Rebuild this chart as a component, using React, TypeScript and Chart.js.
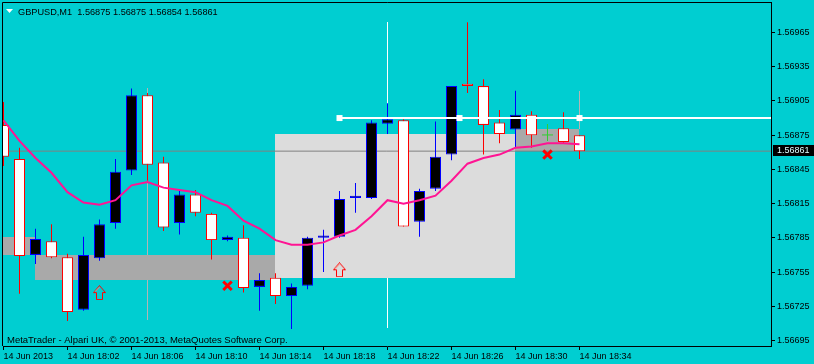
import React, { useEffect, useRef } from 'react';
import { Chart, registerables } from 'chart.js';

Chart.register(...registerables);

// ---------------- data ----------------
const headerText = 'GBPUSD,M1  1.56875 1.56875 1.56854 1.56861';
const copyrightText = 'MetaTrader - Alpari UK, \u00A9 2001-2013, MetaQuotes Software Corp.';

const timeTickBars = [0, 4, 8, 12, 16, 20, 24, 28, 32, 36];
const timeLabels = [
  '14 Jun 2013', '14 Jun 18:02', '14 Jun 18:06', '14 Jun 18:10', '14 Jun 18:14',
  '14 Jun 18:18', '14 Jun 18:22', '14 Jun 18:26', '14 Jun 18:30', '14 Jun 18:34',
];
const priceTicks = [1.56695, 1.56725, 1.56755, 1.56785, 1.56815, 1.56845, 1.56875, 1.56905, 1.56935, 1.56965];

const opens: (number | null)[] = [
  1.56884, 1.56854, 1.5677, 1.56782, 1.56768, 1.56722, 1.56767, 1.56798, 1.56844, 1.5691,
  1.56851, 1.56798, 1.56823, 1.56806, 1.56783, 1.56785, 1.56742, 1.5675, 1.56734, 1.56743,
  1.56785, 1.56786, 1.5682, 1.5682, 1.56885, 1.56888, 1.56799, 1.56828, 1.56858, 1.5692,
  1.56918, 1.56886, 1.5688, 1.56893, null, 1.56881, 1.56875,
];
const highs: (number | null)[] = [
  1.56904, 1.56864, 1.56793, 1.56797, 1.56771, 1.56786, 1.56801, 1.56854, 1.56916, 1.56912,
  1.56856, 1.56826, 1.56827, 1.56807, 1.56787, 1.56796, 1.56754, 1.56754, 1.56745, 1.56786,
  1.56792, 1.56826, 1.56833, 1.56888, 1.56903, 1.56889, 1.56828, 1.56887, 1.56918, 1.56974,
  1.56924, 1.56897, 1.56914, 1.56896, null, 1.56895, 1.56875,
];
const lows: (number | null)[] = [
  1.56848, 1.56736, 1.56762, 1.56767, 1.56712, 1.56721, 1.56765, 1.56793, 1.5684, 1.56835,
  1.56791, 1.56788, 1.56804, 1.56766, 1.56782, 1.56737, 1.56721, 1.56727, 1.56705, 1.5674,
  1.56755, 1.56785, 1.56807, 1.56819, 1.56876, 1.56795, 1.56786, 1.56826, 1.56853, 1.56912,
  1.56858, 1.56868, 1.56864, 1.56864, null, 1.56868, 1.56854,
];
const closes: (number | null)[] = [
  1.56856, 1.56769, 1.56784, 1.56768, 1.5672, 1.5677, 1.56797, 1.56843, 1.5691, 1.56849,
  1.56794, 1.56823, 1.56807, 1.56783, 1.56786, 1.56741, 1.56748, 1.56734, 1.56742, 1.56785,
  1.56787, 1.56819, 1.56822, 1.56886, 1.56889, 1.56795, 1.56826, 1.56856, 1.56918, 1.56918,
  1.56884, 1.56876, 1.56893, 1.56875, null, 1.56869, 1.56861,
];
const maValues = [
  1.56888, 1.5687, 1.56855, 1.56842, 1.56825, 1.56816, 1.56814, 1.56818, 1.56831, 1.56834,
  1.56829, 1.56827, 1.56825, 1.56818, 1.56813, 1.568, 1.56793, 1.56783, 1.56779, 1.56779,
  1.56781, 1.56787, 1.56792, 1.56804, 1.56818, 1.56815, 1.56818, 1.56822, 1.56835, 1.5685,
  1.56855, 1.56858, 1.56864, 1.56865, 1.56868, 1.56868, 1.56867,
];

// rectangles (bar from, bar to, price top, price bottom)
const rectStart = [-1, 2, 17, 32];
const rectEnd = [2, 17, 32, 36];
const rectTop = [1.56786, 1.5677, 1.56876, 1.5688];
const rectBottom = [1.5677, 1.56748, 1.5675, 1.56861];
const rectKind = ['dark', 'dark', 'light', 'dark'];

// vertical line objects
const vLineBars = [9, 24, 36];
const vLineTop = [1.56916, 1.56974, 1.56914];
const vLineBottom = [1.56713, 1.56706, 1.5688];
const vLineKind = ['grey', 'white', 'grey'];

// horizontal objects
const bidPrice = 1.56861;
const rayPrice = 1.5689;
const rayBars = [21, 28.5, 36, 48];

// markers
const arrowBars = [6, 21];
const arrowPrices = [1.56737, 1.56757];
const crossBars = [14, 34];
const crossPrices = [1.56743, 1.56858];
const plusBars = [34];
const plusPrices = [1.56877];

// ---------------- styles ----------------
const BG = '#00CED1';
const FONT = '"Liberation Sans", Arial, sans-serif';

function makeArrow(): HTMLCanvasElement {
  const c = document.createElement('canvas');
  c.width = 13; c.height = 15;
  const g = c.getContext('2d')!;
  g.strokeStyle = '#FF0000';
  g.lineWidth = 1;
  g.beginPath();
  g.moveTo(6.5, 0.5);
  g.lineTo(12.5, 7.5);
  g.lineTo(9.5, 7.5);
  g.lineTo(9.5, 14.5);
  g.lineTo(3.5, 14.5);
  g.lineTo(3.5, 7.5);
  g.lineTo(0.5, 7.5);
  g.closePath();
  g.stroke();
  g.strokeStyle = '#FF9080';
  g.beginPath();
  g.moveTo(6.5, 2);
  g.lineTo(2, 6.5);
  g.stroke();
  return c;
}

function makePlus(): HTMLCanvasElement {
  const c = document.createElement('canvas');
  c.width = 11; c.height = 17;
  const g = c.getContext('2d')!;
  g.strokeStyle = '#32CD32';
  g.lineWidth = 1;
  g.beginPath();
  g.moveTo(5.5, 0); g.lineTo(5.5, 17);
  g.moveTo(0, 10.5); g.lineTo(11, 10.5);
  g.stroke();
  return c;
}

export default function App() {
  const ref = useRef<HTMLCanvasElement | null>(null);

  useEffect(() => {
    document.body.style.margin = '0';
    const canvas = ref.current!;
    const valid = opens.map((o, i) => (o == null ? -1 : i)).filter((i) => i >= 0);
    const bull = valid.map((i) => (closes[i] as number) > (opens[i] as number));

    const bodyData = valid.map((i) => ({
      x: i,
      y: [Math.min(opens[i] as number, closes[i] as number), Math.max(opens[i] as number, closes[i] as number)],
    }));
    const wickData = valid.map((i) => ({ x: i, y: [lows[i] as number, highs[i] as number] }));

    const bgPlugin = {
      id: 'bg',
      beforeDraw(chart: any) {
        const ctx = chart.ctx;
        ctx.save();
        ctx.fillStyle = BG;
        ctx.fillRect(0, 0, chart.width, chart.height);
        ctx.restore();
      },
    };

    const objectsPlugin = {
      id: 'objects',
      beforeDatasetsDraw(chart: any) {
        const { ctx, chartArea, scales } = chart;
        const xs = scales.x, ys = scales.y;
        ctx.save();
        ctx.beginPath();
        ctx.rect(chartArea.left, chartArea.top, chartArea.right - chartArea.left, chartArea.bottom - chartArea.top);
        ctx.clip();
        vLineBars.forEach((b, k) => {
          const px = Math.floor(xs.getPixelForValue(b)) + 0.5;
          ctx.strokeStyle = vLineKind[k] === 'white' ? '#FFFFFF' : '#B4B4B4';
          ctx.lineWidth = 1;
          ctx.beginPath();
          ctx.moveTo(px, Math.round(ys.getPixelForValue(vLineTop[k])));
          ctx.lineTo(px, Math.round(ys.getPixelForValue(vLineBottom[k])));
          ctx.stroke();
        });
        rectStart.forEach((s, k) => {
          const x1 = Math.floor(xs.getPixelForValue(s));
          const x2 = Math.floor(xs.getPixelForValue(rectEnd[k]));
          const y1 = Math.round(ys.getPixelForValue(rectTop[k]));
          const y2 = Math.round(ys.getPixelForValue(rectBottom[k]));
          ctx.fillStyle = rectKind[k] === 'light' ? '#DCDCDC' : '#A9A9A9';
          ctx.fillRect(x1, y1, x2 - x1, y2 - y1);
        });
        ctx.restore();
      },
    };

    const overlayPlugin = {
      id: 'overlay',
      afterDraw(chart: any) {
        const { ctx, chartArea, scales } = chart;
        ctx.save();
        // frame top and left
        ctx.strokeStyle = '#000';
        ctx.lineWidth = 1;
        ctx.beginPath();
        ctx.moveTo(2.5, chartArea.bottom);
        ctx.lineTo(2.5, 2.5);
        ctx.lineTo(chartArea.right + 1, 2.5);
        ctx.stroke();
        // header
        ctx.fillStyle = '#FFFFFF';
        ctx.beginPath();
        ctx.moveTo(6, 9);
        ctx.lineTo(13, 9);
        ctx.lineTo(9.5, 13);
        ctx.closePath();
        ctx.fill();
        ctx.fillStyle = '#000';
        ctx.textBaseline = 'alphabetic';
        ctx.textAlign = 'left';
        ctx.font = '9.2px ' + FONT;
        ctx.fillText(headerText, 18, 15);
        ctx.font = '9.5px ' + FONT;
        ctx.fillText(copyrightText, 7, 343);
        // bid price label
        const yb = scales.y.getPixelForValue(bidPrice);
        ctx.font = '9px ' + FONT;
        ctx.fillStyle = '#000';
        ctx.fillRect(chartArea.right + 2, Math.round(yb) - 6, 814 - chartArea.right - 2, 11);
        ctx.fillStyle = '#E0FFFF';
        ctx.textBaseline = 'middle';
        ctx.fillText(bidPrice.toFixed(5), chartArea.right + 6, Math.round(yb));
        ctx.restore();
      },
    };

    const tickFont = { family: FONT, size: 9 };

    const chart = new Chart(canvas, {
      type: 'bar',
      data: {
        datasets: [
          {
            type: 'line',
            label: 'bid',
            data: [{ x: -1, y: bidPrice }, { x: 48, y: bidPrice }],
            borderColor: '#808080',
            borderWidth: 1,
            pointRadius: 0,
            order: 10,
          } as any,
          {
            type: 'bar',
            label: 'wick',
            data: wickData,
            backgroundColor: bull.map((b) => (b ? '#0000FF' : '#FF0000')),
            borderWidth: 0,
            inflateAmount: 0,
            barThickness: 1,
            maxBarThickness: 1,
            grouped: false,
            order: 5,
          } as any,
          {
            type: 'bar',
            label: 'body',
            data: bodyData,
            backgroundColor: bull.map((b) => (b ? '#000000' : '#FFFFFF')),
            borderColor: bull.map((b) => (b ? '#0000FF' : '#FF0000')),
            borderWidth: 1,
            inflateAmount: 0,
            borderSkipped: false,
            barThickness: 11,
            maxBarThickness: 11,
            grouped: false,
            order: 4,
          } as any,
          {
            type: 'line',
            label: 'MA',
            data: maValues.map((v, i) => ({ x: i, y: v })),
            borderColor: '#FF1493',
            borderWidth: 2,
            pointRadius: 0,
            tension: 0,
            order: 2,
          } as any,
          {
            type: 'line',
            label: 'ray',
            data: rayBars.map((b) => ({ x: b, y: rayPrice })),
            borderColor: '#FFFFFF',
            borderWidth: 2,
            pointStyle: 'rect',
            pointRadius: [4.25, 4.25, 4.25, 0],
            pointBackgroundColor: '#FFFFFF',
            pointBorderWidth: 0,
            order: 1,
          } as any,
          {
            type: 'line',
            label: 'arrows',
            data: arrowBars.map((b, k) => ({ x: b, y: arrowPrices[k] })),
            showLine: false,
            pointStyle: makeArrow(),
            order: 0,
          } as any,
          {
            type: 'line',
            label: 'crosses',
            data: crossBars.map((b, k) => ({ x: b, y: crossPrices[k] })),
            showLine: false,
            pointStyle: 'crossRot',
            pointRadius: 6,
            borderColor: '#FF0000',
            borderWidth: 3,
            order: 0,
          } as any,
          {
            type: 'line',
            label: 'plus',
            data: plusBars.map((b, k) => ({ x: b, y: plusPrices[k] })),
            showLine: false,
            pointStyle: makePlus(),
            order: 0,
          } as any,
        ],
      },
      options: {
        responsive: false,
        animation: false,
        events: [],
        layout: { autoPadding: false, padding: { left: 3, top: 2, right: 0, bottom: 0 } },
        plugins: { legend: { display: false }, tooltip: { enabled: false } },
        scales: {
          x: {
            type: 'linear',
            min: -1 / 32,
            max: 48 - 1 / 32,
            offset: false,
            bounds: 'data',
            grid: { drawOnChartArea: false, drawTicks: true, tickLength: 4, color: '#000', offset: false },
            border: { display: true, color: '#000', width: 1 },
            ticks: {
              autoSkip: false,
              maxRotation: 0,
              minRotation: 0,
              align: 'start',
              padding: 1,
              color: '#000',
              font: tickFont,
              callback: (_v: any, idx: number) => timeLabels[idx],
            },
            afterBuildTicks: (s: any) => {
              s.ticks = timeTickBars.map((v) => ({ value: v }));
            },
            afterFit: (s: any) => {
              s.height = 18;
              s.paddingLeft = 0;
              s.paddingRight = 0;
            },
          } as any,
          y: {
            type: 'linear',
            position: 'right',
            min: 1.56690179,
            max: 1.56991737,
            bounds: 'data',
            grid: { drawOnChartArea: false, drawTicks: true, tickLength: 4, color: '#000' },
            border: { display: true, color: '#000', width: 1 },
            ticks: {
              autoSkip: false,
              padding: 2,
              color: '#000',
              font: tickFont,
              callback: (v: any) => Number(v).toFixed(5),
            },
            afterBuildTicks: (s: any) => {
              s.ticks = priceTicks.map((v) => ({ value: v }));
            },
            afterFit: (s: any) => {
              s.width = 43;
              s.paddingTop = 0;
              s.paddingBottom = 0;
            },
          } as any,
        },
      },
      plugins: [bgPlugin, objectsPlugin, overlayPlugin],
    } as any);

    return () => chart.destroy();
  }, []);

  return (
    <div style={{ position: 'fixed', left: 0, top: 0, width: 814, height: 364 }}>
      <canvas ref={ref} width={814} height={364} style={{ display: 'block', width: 814, height: 364 }} />
    </div>
  );
}
